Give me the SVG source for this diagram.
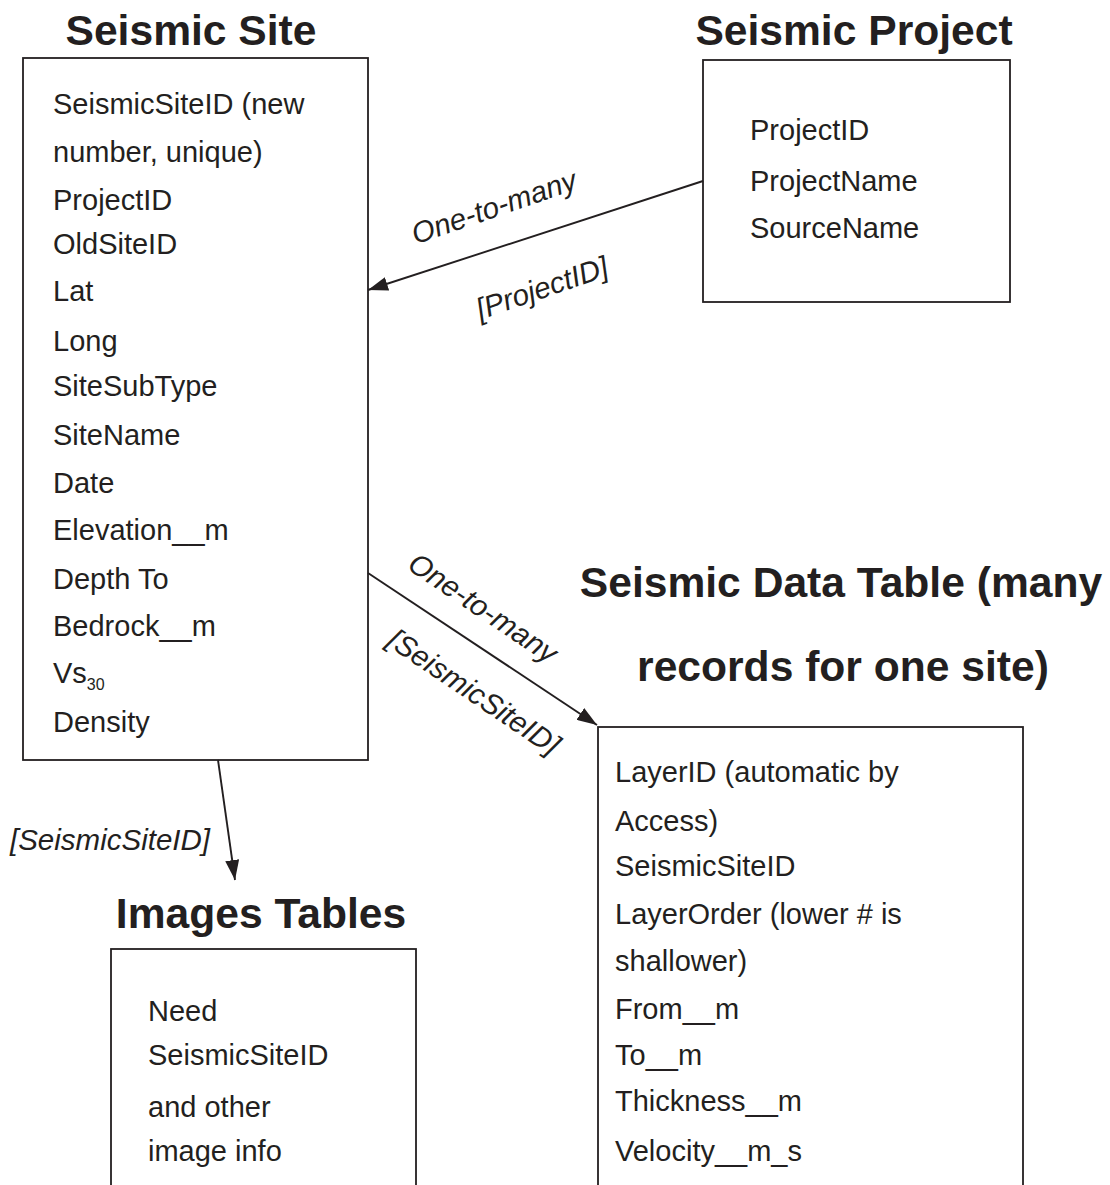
<svg xmlns="http://www.w3.org/2000/svg" width="1110" height="1185" viewBox="0 0 1110 1185">
<defs>
<style>
.box{fill:#ffffff;stroke:#231f20;stroke-width:1.8}
.title{font-family:"Liberation Sans",Arial,sans-serif;font-weight:bold;font-size:42.6px;fill:#231f20;text-anchor:middle}
.f{font-family:"Liberation Sans",Arial,sans-serif;font-size:29px;fill:#231f20}
.lbl{font-family:"Liberation Sans",Arial,sans-serif;font-size:29.5px;font-style:italic;fill:#231f20;text-anchor:middle}
.conn{stroke:#231f20;stroke-width:1.9;fill:none}
</style>
<marker id="arr" viewBox="0 0 20 14" refX="20" refY="7" markerWidth="20" markerHeight="14" markerUnits="userSpaceOnUse" orient="auto">
<path d="M0,0 L20,7 L0,14 Z" fill="#231f20"/>
</marker>
</defs>
<rect width="1110" height="1185" fill="#ffffff"/>

<g id="seismic-site">
<text class="title" x="191" y="45">Seismic Site</text>
<rect class="box" x="23" y="58" width="345" height="702"/>
<text class="f" x="53" y="114">SeismicSiteID (new</text>
<text class="f" x="53" y="162">number, unique)</text>
<text class="f" x="53" y="210">ProjectID</text>
<text class="f" x="53" y="254">OldSiteID</text>
<text class="f" x="53" y="301">Lat</text>
<text class="f" x="53" y="351">Long</text>
<text class="f" x="53" y="396">SiteSubType</text>
<text class="f" x="53" y="445">SiteName</text>
<text class="f" x="53" y="493">Date</text>
<text class="f" x="53" y="540">Elevation__m</text>
<text class="f" x="53" y="589">Depth To</text>
<text class="f" x="53" y="636">Bedrock__m</text>
<text class="f" x="53" y="683">Vs<tspan font-size="16" dy="7">30</tspan></text>
<text class="f" x="53" y="732">Density</text>
</g>

<g id="seismic-project">
<text class="title" x="854" y="45">Seismic Project</text>
<rect class="box" x="703" y="60" width="307" height="242"/>
<text class="f" x="750" y="140">ProjectID</text>
<text class="f" x="750" y="191">ProjectName</text>
<text class="f" x="750" y="238">SourceName</text>
</g>

<g id="seismic-data-table">
<text class="title" x="841" y="597">Seismic Data Table (many</text>
<text class="title" x="843" y="681">records for one site)</text>
<rect class="box" x="598" y="727" width="425" height="520"/>
<text class="f" x="615" y="782">LayerID (automatic by</text>
<text class="f" x="615" y="831">Access)</text>
<text class="f" x="615" y="876">SeismicSiteID</text>
<text class="f" x="615" y="924">LayerOrder (lower # is</text>
<text class="f" x="615" y="971">shallower)</text>
<text class="f" x="615" y="1019">From__m</text>
<text class="f" x="615" y="1065">To__m</text>
<text class="f" x="615" y="1111">Thickness__m</text>
<text class="f" x="615" y="1161">Velocity__m_s</text>
</g>

<g id="images-tables">
<text class="title" x="261" y="928">Images Tables</text>
<rect class="box" x="111" y="949" width="305" height="300"/>
<text class="f" x="148" y="1021">Need</text>
<text class="f" x="148" y="1065">SeismicSiteID</text>
<text class="f" x="148" y="1117">and other</text>
<text class="f" x="148" y="1161">image info</text>
</g>

<g id="connectors">
<line class="conn" x1="703" y1="181" x2="368" y2="290" marker-end="url(#arr)"/>
<line class="conn" x1="368" y1="573" x2="597" y2="725" marker-end="url(#arr)"/>
<line class="conn" x1="218" y1="760" x2="235" y2="880" marker-end="url(#arr)"/>
<text class="lbl" transform="translate(494,207) rotate(-19)" y="10">One-to-many</text>
<text class="lbl" transform="translate(542,288) rotate(-19)" y="10">[ProjectID]</text>
<text class="lbl" transform="translate(483,608) rotate(34)" y="10">One-to-many</text>
<text class="lbl" transform="translate(474,692) rotate(34)" y="10">[SeismicSiteID]</text>
<text class="lbl" x="110" y="850">[SeismicSiteID]</text>
</g>
</svg>
